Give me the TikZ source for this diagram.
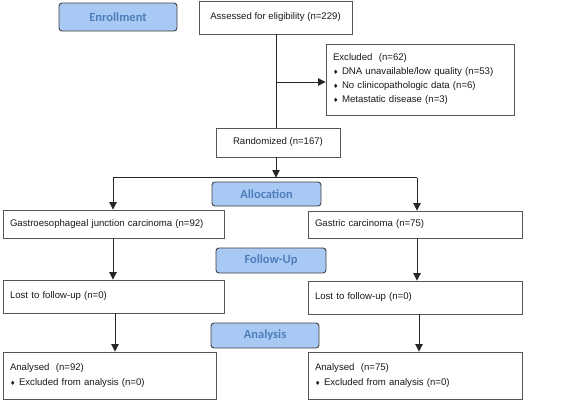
\documentclass[tikz,border=0pt]{standalone}
\usepackage{fontspec}
\setmainfont{Liberation Sans}
\newfontfamily\phasefont{Carlito}
\newfontfamily\symfont{DejaVu Sans}
\usetikzlibrary{arrows.meta,calc}
\definecolor{phasefill}{HTML}{A9C9F5}
\definecolor{phasetext}{HTML}{4D7EBA}
\definecolor{boxline}{HTML}{555555}
\newcommand{\bul}{\makebox[9pt][l]{\symfont\fontsize{6}{6}\selectfont ♦}}
\begin{document}
\begin{tikzpicture}[x=1pt,y=-1pt,
 box/.style={draw=boxline,line width=0.9pt,fill=white,inner sep=0pt,text=black!90,font=\fontsize{9.6}{14}\selectfont},
 lbox/.style={box,align=left},
 phase/.style={draw=black!75,line width=0.9pt,fill=phasefill,rounded corners=3pt,font=\phasefont\bfseries\fontsize{12.5}{14}\selectfont,text=phasetext,inner sep=0pt},
 conn/.style={draw=black!85,line width=0.9pt},
 arr/.style={conn,-{Triangle[length=7.5pt,width=7.5pt]}}
]
\path[use as bounding box,fill=white] (0,0) rectangle (567,400);

% phase labels
\node[phase,minimum width=118pt,minimum height=28pt] (enr) at (118,17) {Enrollment};
\node[phase,minimum width=109pt,minimum height=24pt] (alloc) at (266.5,194) {Allocation};
\node[phase,minimum width=110pt,minimum height=25pt] (fup) at (271,260.5) {Follow-Up};
\node[phase,minimum width=108pt,minimum height=25pt] (anal) at (265,335.5) {Analysis};

% boxes
\node[box,minimum width=153pt,minimum height=33pt] (assess) at (275.5,17.5) {Assessed for eligibility (n=229)};
\node[lbox,minimum width=188pt,minimum height=71pt,text width=174pt] (excl) at (420,79.5)
  {Excluded\ \ (n=62)\\ \bul DNA unavailable/low quality (n=53)\\ \bul No clinicopathologic data (n=6)\\ \bul Metastatic disease (n=3)};
\node[box,minimum width=124pt,minimum height=29pt] (rand) at (278,142.5) {Randomized (n=167)};
\node[lbox,minimum width=221pt,minimum height=28pt,text width=207pt] (gej) at (113.5,224) {Gastroesophageal junction carcinoma (n=92)};
\node[lbox,minimum width=214pt,minimum height=27pt,text width=200pt] (gas) at (415,224.5) {Gastric carcinoma (n=75)};
\node[lbox,minimum width=221pt,minimum height=33pt,text width=207pt] (lostL) at (113.5,296.5) {Lost to follow-up (n=0)};
\node[lbox,minimum width=214pt,minimum height=33pt,text width=200pt] (lostR) at (415,297.5) {Lost to follow-up (n=0)};
\node[lbox,minimum width=213pt,minimum height=47pt,text width=199pt,font=\fontsize{9.6}{15}\selectfont] (anL) at (109.5,375.5)
  {Analysed\ \ (n=92)\\ \bul Excluded from analysis (n=0)};
\node[lbox,minimum width=214pt,minimum height=47pt,text width=200pt,font=\fontsize{9.6}{15}\selectfont] (anR) at (415,375.5)
  {Analysed\ \ (n=75)\\ \bul Excluded from analysis (n=0)};

% connectors
\coordinate (cm) at (276,82);
\coordinate (split) at (276,177.5);
\coordinate (sl) at (113,177.5);
\coordinate (sr) at (417,177.5);
\coordinate (al) at (115,0);
\coordinate (ar) at (419,0);
\draw[conn] (assess.south -| cm) -- (rand.north -| cm);
\draw[arr] (cm) -- (cm -| excl.west);
\draw[arr] (rand.south -| split) -- (split);
\draw[conn] (sl) -- (sr);
\draw[arr] (sl) -- (gej.north -| sl);
\draw[arr] (sr) -- (gas.north -| sr);
\draw[arr] (gej.south -| sl) -- (lostL.north -| sl);
\draw[arr] (gas.south -| sr) -- (lostR.north -| sr);
\draw[arr] (lostL.south -| al) -- (anL.north -| al);
\draw[arr] (lostR.south -| ar) -- (anR.north -| ar);
\end{tikzpicture}
\end{document}
